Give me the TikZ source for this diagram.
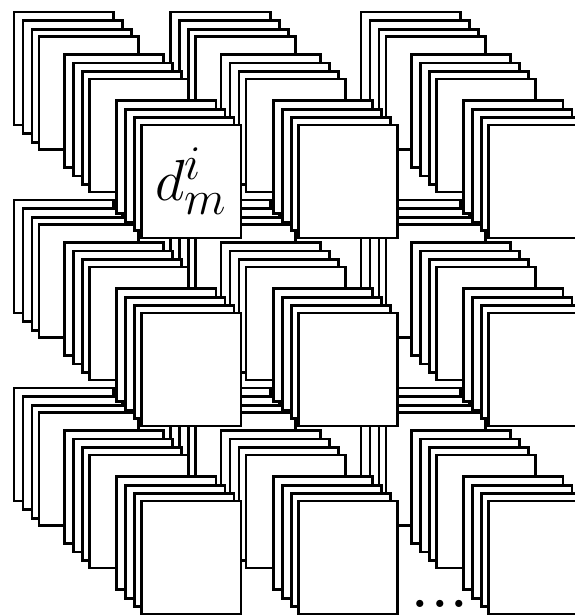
\documentclass[tikz,border=0pt]{standalone}
\usetikzlibrary{positioning}

\begin{document}
\begin{tikzpicture}[x=1pt,y=-1pt,
  sheet/.style={draw=black,fill=white,line width=2.7pt,line join=miter},
  tag/.style={font=\Huge,inner sep=0pt,scale=2.33,transform shape}]
 \useasboundingbox (0,0) rectangle (575,616);
 \clip (0,0) rectangle (575,616);
 % continuation dots along the bottom
 \node[font=\Huge\bfseries,anchor=base,inner sep=0pt,scale=2.0,transform shape] (more) at (440,607) {.\kern2pt.\kern2pt.};
 % rows and columns back to front, each cell = 3 groups of 4 sheets
 \foreach \cy in {388,200,12}{
  \foreach \cx in {361,170.7,14}{
   \foreach \gx/\gy in {0/0,50.3/42.4,102.5/88.5}{
    \foreach \sx/\sy in {0/0,9/8.7,18/17.3,25/24.5}{
     \draw[sheet] (\cx+\gx+\sx,\cy+\gy+\sy) rectangle ++(99.5,113);
    }
   }
  }
 }
 \coordinate (front) at (141.5,124.9);
 \node[tag] (dmi) at ([xshift=49.75pt,yshift=-56.5pt]front) {$d^i_m$};
\end{tikzpicture}
\end{document}
